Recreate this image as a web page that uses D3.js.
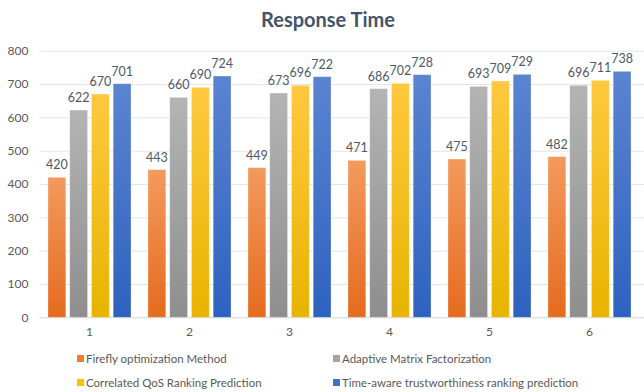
<!DOCTYPE html>
<html>
<head>
<meta charset="utf-8">
<script src="https://cdn.jsdelivr.net/npm/d3@7"></script>
<style>
  html, body { margin: 0; padding: 0; background: #fff; }
  svg { display: block; font-family: Lato, "Open Sans", sans-serif; }
</style>
</head>
<body>
<svg id="chart" width="644" height="392"></svg>
<script>
// Response time per test case for each ranking method
const categories = ["1", "2", "3", "4", "5", "6"];
const seriesNames = [
  "Firefly optimization Method",
  "Adaptive Matrix Factorization",
  "Correlated QoS Ranking Prediction",
  "Time-aware trustworthiness ranking prediction"
];
const firefly    = [420, 443, 449, 471, 475, 482];
const adaptive   = [622, 660, 673, 686, 693, 696];
const correlated = [670, 690, 696, 702, 709, 711];
const timeAware  = [701, 724, 722, 728, 729, 738];
const yTicks = [0, 100, 200, 300, 400, 500, 600, 700, 800];

const seriesValues = [firefly, adaptive, correlated, timeAware];
const gradients = [
  ["#F39A5E", "#E56B1F"],
  ["#B4B4B4", "#8E8E8E"],
  ["#FFC83F", "#E8B400"],
  ["#5B84D0", "#2E62BF"]
];
const swatch = ["#ED7D31", "#A5A5A5", "#FFC000", "#4472C4"];

const svg = d3.select("#chart");
const margin = { left: 39.5, right: 4.5 };
const W = 644;

const x = d3.scaleBand().domain(categories).range([margin.left, W - margin.right]).paddingInner(0).paddingOuter(0);
const y = d3.scaleLinear().domain([0, 800]).range([317.3, 50.7]);

const inner = d3.scaleBand().domain(d3.range(4))
  .range([x.bandwidth() / 2 - 41.5, x.bandwidth() / 2 + 41.5])
  .paddingInner(0.18).paddingOuter(0);

// vertical gradients for the bars
const defs = svg.append("defs");
gradients.forEach((g, i) => {
  const lg = defs.append("linearGradient").attr("id", "g" + i)
    .attr("x1", 0).attr("y1", 0).attr("x2", 0).attr("y2", 1);
  lg.append("stop").attr("offset", "0%").attr("stop-color", g[0]);
  lg.append("stop").attr("offset", "100%").attr("stop-color", g[1]);
});

// title
svg.append("text")
  .attr("x", 328).attr("y", 27)
  .attr("text-anchor", "middle")
  .attr("font-size", 20).attr("font-weight", 700)
  .attr("fill", "#44546A")
  .text("Response Time");

// grid + y axis labels
const yAxis = d3.axisLeft(y).tickValues(yTicks).tickSize(-(W - margin.left)).tickPadding(11);
const ya = svg.append("g").attr("transform", `translate(${margin.left},0)`).call(yAxis);
ya.select(".domain").remove();
ya.selectAll(".tick line").attr("stroke", "#E1E5EB").attr("stroke-width", 1).attr("x2", W - margin.left);
ya.selectAll(".tick text").attr("font-size", 12).attr("fill", "#595959").attr("font-family", "Lato, 'Open Sans', sans-serif");
ya.selectAll(".tick").filter(d => d === 0).select("line").attr("stroke", "#D0D5DD");

// bars with value labels
const groups = svg.append("g").selectAll("g")
  .data(categories).join("g")
  .attr("transform", d => `translate(${x(d)},0)`);

seriesValues.forEach((vals, si) => {
  groups.append("rect")
    .attr("x", inner(si))
    .attr("width", inner.bandwidth())
    .attr("y", (d, ci) => y(vals[ci]))
    .attr("height", (d, ci) => y(0) - y(vals[ci]))
    .attr("fill", `url(#g${si})`)
    .attr("stroke", "rgba(255,255,255,0.35)")
    .attr("stroke-width", 0.8);
  groups.append("text")
    .attr("x", inner(si) + inner.bandwidth() / 2)
    .attr("y", (d, ci) => y(vals[ci]) - 8)
    .attr("text-anchor", "middle")
    .attr("font-size", 12.5)
    .attr("fill", "#4F5866")
    .text((d, ci) => vals[ci]);
});

// x axis labels
const xAxis = d3.axisBottom(x).tickSize(0).tickPadding(10);
const xa = svg.append("g").attr("transform", `translate(0,${y(0)})`).call(xAxis);
xa.select(".domain").remove();
xa.selectAll(".tick text").attr("font-size", 12).attr("fill", "#595959").attr("font-family", "Lato, 'Open Sans', sans-serif");

// legend, two rows of two
const legendPos = [[77, 359], [333, 359], [77, 383], [333, 383]];
const legend = svg.append("g").selectAll("g").data(seriesNames).join("g")
  .attr("transform", (d, i) => `translate(${legendPos[i][0]},${legendPos[i][1]})`);
legend.append("rect").attr("x", 0).attr("y", -4).attr("width", 7).attr("height", 7)
  .attr("fill", (d, i) => swatch[i]);
legend.append("text").attr("x", 9).attr("y", 4)
  .attr("font-size", 11.5).attr("fill", "#595959")
  .text(d => d);
</script>
</body>
</html>
